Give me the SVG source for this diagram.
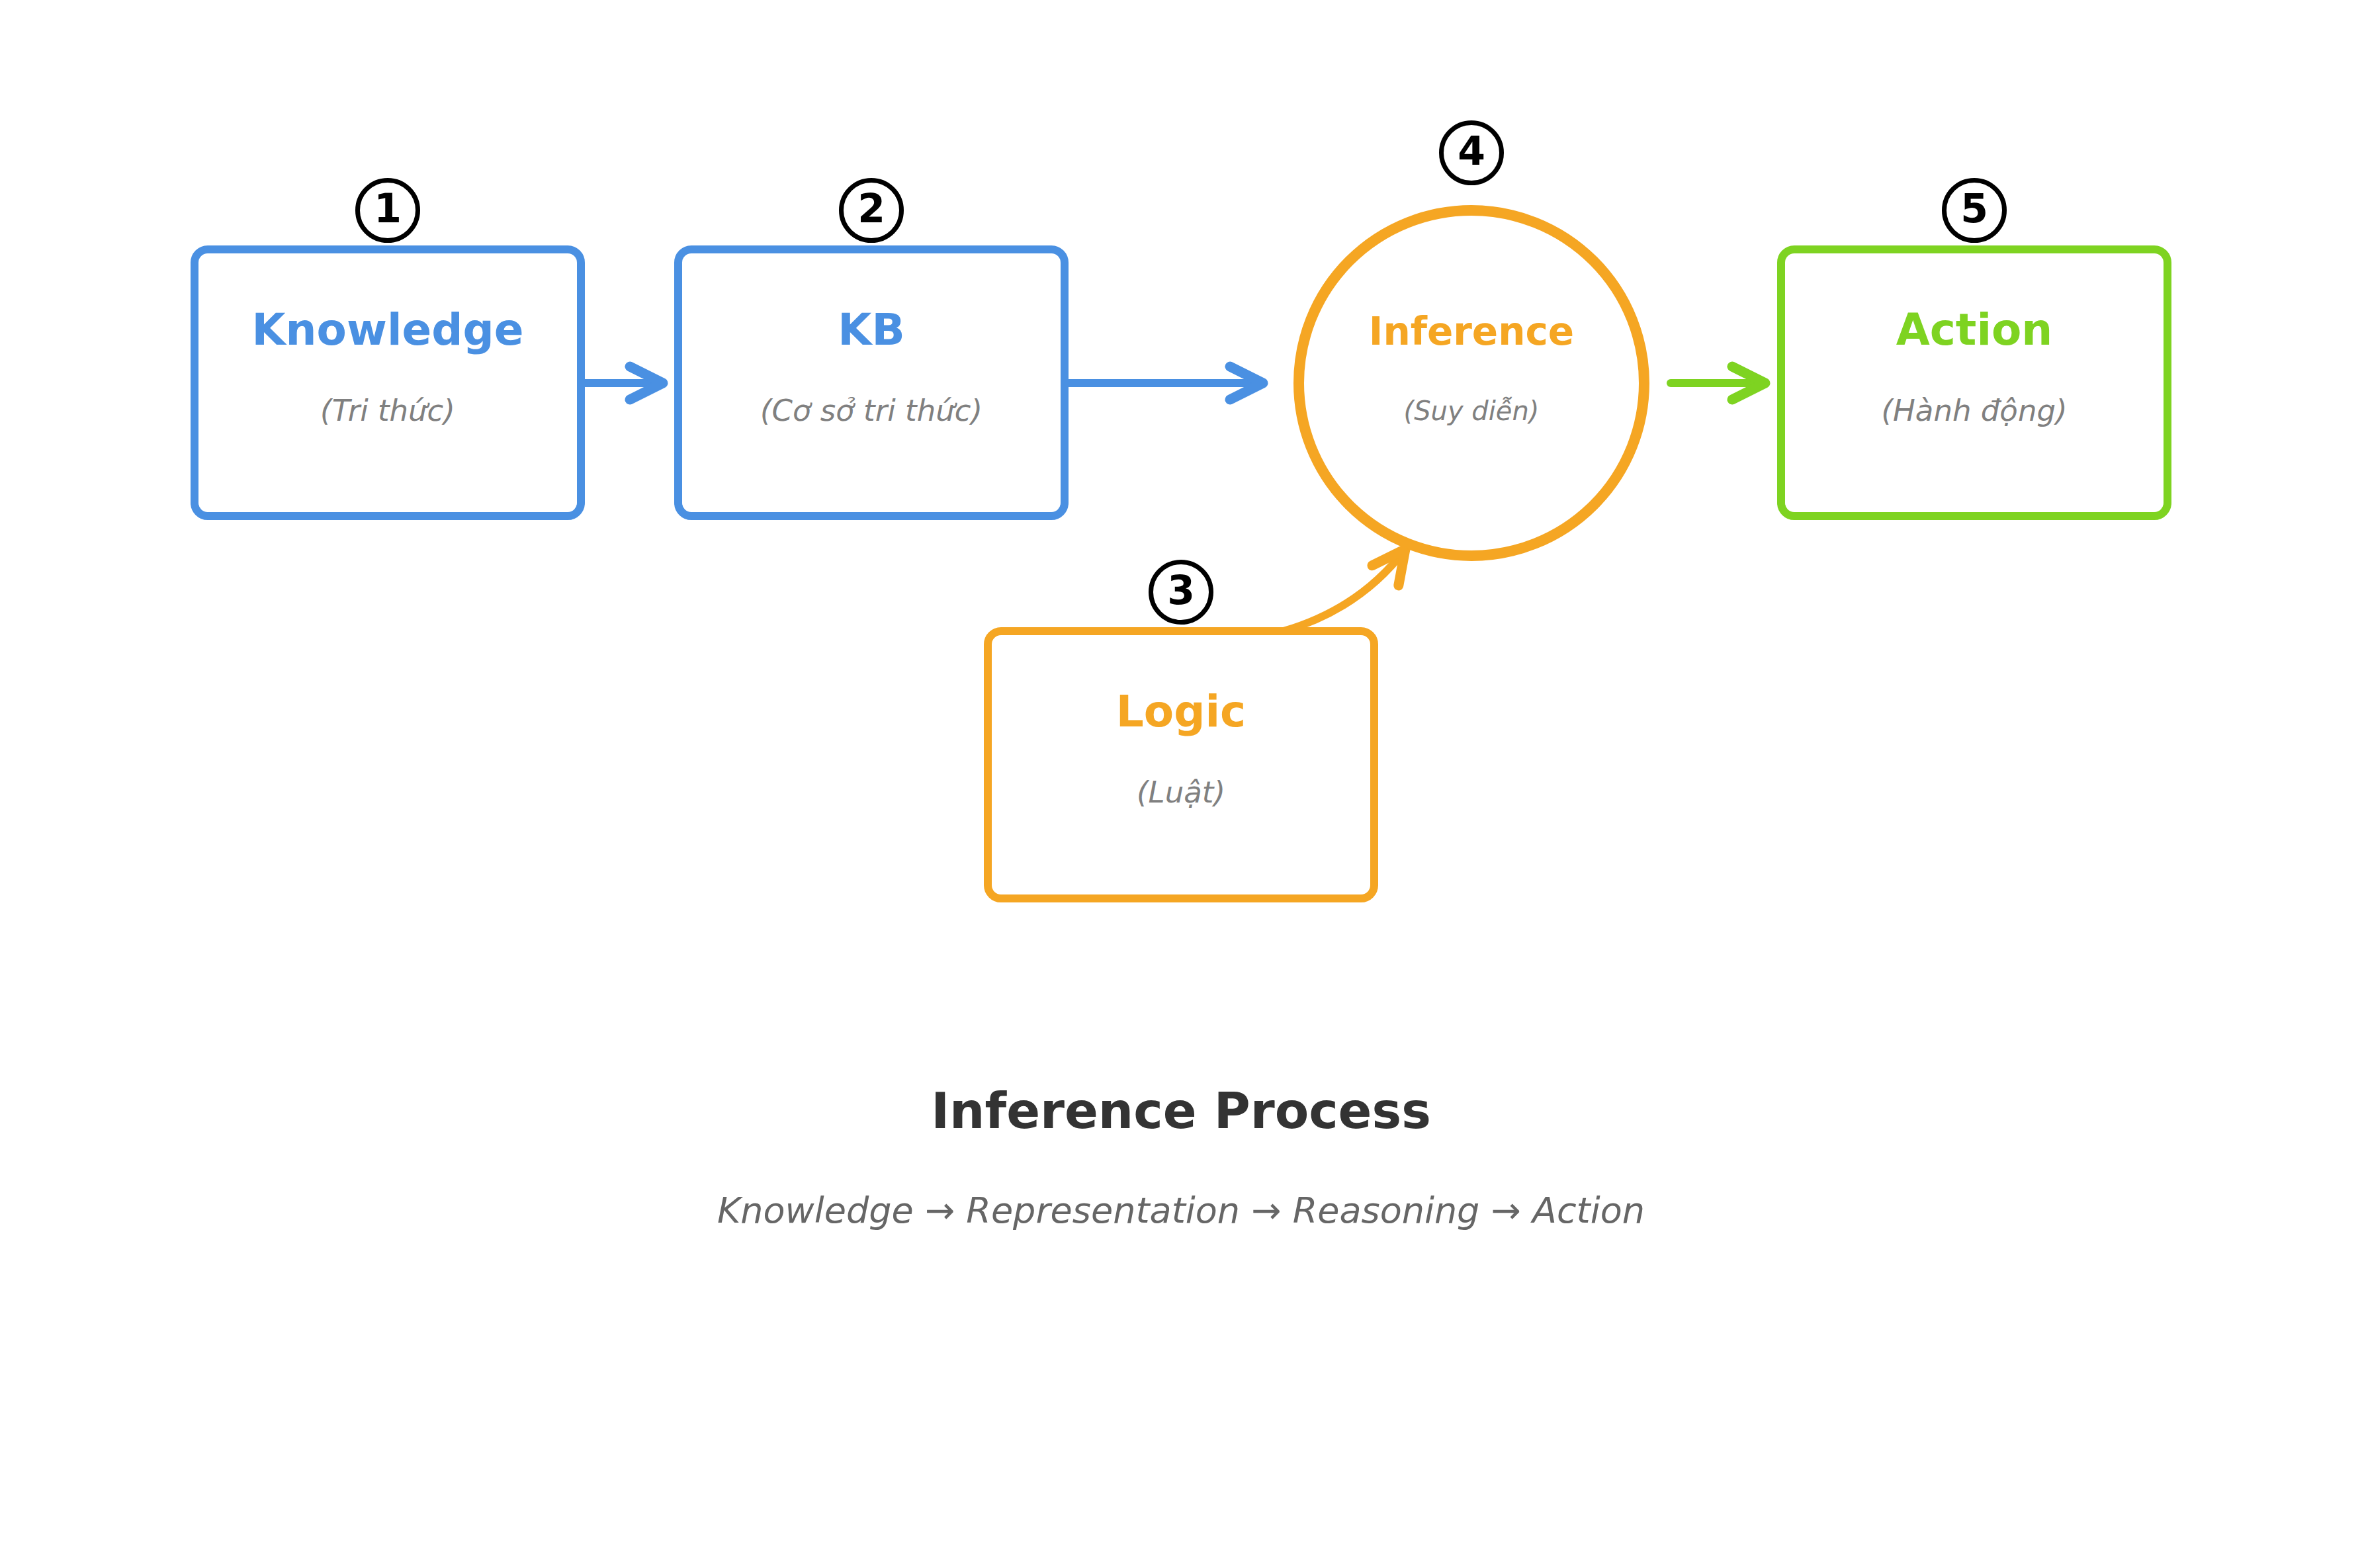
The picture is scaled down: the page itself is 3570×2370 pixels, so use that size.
<svg xmlns="http://www.w3.org/2000/svg" width="3570" height="2370" viewBox="0 0 3570 2370">
  <style>
    text { font-family: "DejaVu Sans", "Liberation Sans", sans-serif; text-anchor: middle; }
    .box { fill: #ffffff; stroke-width: 12; }
    .blue { stroke: #4A90E2; }
    .orange { stroke: #F5A623; }
    .green { stroke: #7ED321; }
    .lbl { font-weight: bold; font-size: 66px; }
    .sub { font-style: italic; font-size: 45px; fill: #808080; }
    .num circle { fill: #ffffff; stroke: #000000; stroke-width: 7; }
    .num text { font-weight: bold; font-size: 60px; fill: #000000; }
    .conn { fill: none; stroke-width: 12; stroke-linecap: round; stroke-linejoin: round; }
  </style>
  <defs>
    <marker id="ahBlue" markerUnits="userSpaceOnUse" orient="auto" refX="0" refY="0" markerWidth="100" markerHeight="100" viewBox="-60 -40 80 80" overflow="visible">
      <path d="M-40,-20 L0,0 L-40,20" fill="none" stroke="#4A90E2" stroke-width="12" stroke-linecap="round" stroke-linejoin="round"/>
    </marker>
    <marker id="ahOrange" markerUnits="userSpaceOnUse" orient="auto" refX="0" refY="0" markerWidth="100" markerHeight="100" viewBox="-60 -40 80 80" overflow="visible">
      <path d="M-40,-20 L0,0 L-40,20" fill="none" stroke="#F5A623" stroke-width="12" stroke-linecap="round" stroke-linejoin="round"/>
    </marker>
    <marker id="ahGreen" markerUnits="userSpaceOnUse" orient="auto" refX="0" refY="0" markerWidth="100" markerHeight="100" viewBox="-60 -40 80 80" overflow="visible">
      <path d="M-40,-20 L0,0 L-40,20" fill="none" stroke="#7ED321" stroke-width="12" stroke-linecap="round" stroke-linejoin="round"/>
    </marker>
  </defs>
  <rect width="3570" height="2370" fill="#ffffff"/>

  <g id="connectors">
    <path class="conn blue" d="M877,579 L1002,579" marker-end="url(#ahBlue)"/>
    <path class="conn blue" d="M1609,579 L1909,579" marker-end="url(#ahBlue)"/>
    <path class="conn green" d="M2525,579 L2668,579" marker-end="url(#ahGreen)"/>
    <path class="conn orange" d="M1940,954 Q2056,920 2124,830" marker-end="url(#ahOrange)"/>
  </g>

  <g id="node-knowledge">
    <rect class="box blue" x="294" y="377" width="584" height="403" rx="20"/>
    <text class="lbl" x="586" y="521" fill="#4A90E2">Knowledge</text>
    <text class="sub" x="586" y="636">(Tri thức)</text>
  </g>
  <g id="node-kb">
    <rect class="box blue" x="1025" y="377" width="584" height="403" rx="20"/>
    <text class="lbl" x="1317" y="521" fill="#4A90E2">KB</text>
    <text class="sub" x="1317" y="636">(Cơ sở tri thức)</text>
  </g>
  <g id="node-inference">
    <circle cx="2224" cy="579" r="261" fill="#ffffff" stroke="#F5A623" stroke-width="16"/>
    <text x="2224" y="521" font-weight="bold" font-size="58" fill="#F5A623">Inference</text>
    <text x="2224" y="635" font-style="italic" font-size="40" fill="#808080">(Suy diễn)</text>
  </g>
  <g id="node-action">
    <rect class="box green" x="2692" y="377" width="584" height="403" rx="20"/>
    <text class="lbl" x="2984" y="521" fill="#7ED321">Action</text>
    <text class="sub" x="2984" y="636">(Hành động)</text>
  </g>
  <g id="node-logic">
    <rect class="box orange" x="1493" y="954" width="584" height="404" rx="20"/>
    <text class="lbl" x="1785" y="1098" fill="#F5A623">Logic</text>
    <text class="sub" x="1785" y="1213">(Luật)</text>
  </g>

  <g id="badge-1" class="num">
    <circle cx="586" cy="318" r="45.5"/>
    <text x="586" y="336">1</text>
  </g>
  <g id="badge-2" class="num">
    <circle cx="1317" cy="318" r="45.5"/>
    <text x="1317" y="336">2</text>
  </g>
  <g id="badge-3" class="num">
    <circle cx="1785" cy="895" r="45.5"/>
    <text x="1785" y="913">3</text>
  </g>
  <g id="badge-4" class="num">
    <circle cx="2224" cy="231" r="45.5"/>
    <text x="2224" y="249">4</text>
  </g>
  <g id="badge-5" class="num">
    <circle cx="2984" cy="318" r="45.5"/>
    <text x="2984" y="336">5</text>
  </g>

  <g id="caption">
    <text x="1785" y="1705" font-weight="bold" font-size="75" fill="#333333">Inference Process</text>
    <text x="1785" y="1848" font-style="italic" font-size="54" fill="#666666">Knowledge → Representation → Reasoning → Action</text>
  </g>
</svg>
